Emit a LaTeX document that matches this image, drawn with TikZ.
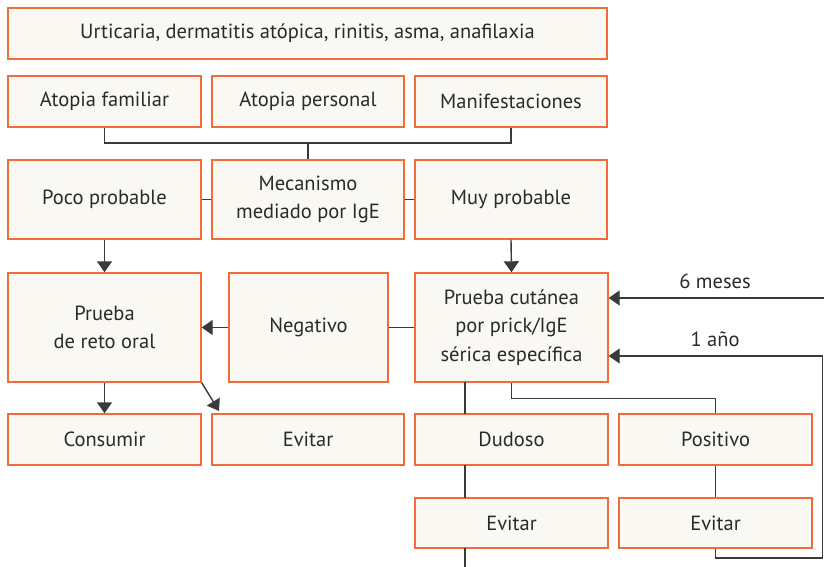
\documentclass[tikz,border=0pt]{standalone}
\usepackage{fontspec}
\setmainfont{PT Sans}
\usetikzlibrary{arrows.meta}
\definecolor{boxorange}{HTML}{F26B3A}
\definecolor{boxfill}{HTML}{FAF8F3}
\definecolor{linegray}{HTML}{3A3A3A}
\definecolor{txt}{HTML}{2A2A2A}
\tikzset{
  box/.style={draw=boxorange, fill=boxfill, line width=1.4pt, inner sep=0pt,
    align=center, text=txt, font=\fontsize{20.5}{28.5}\selectfont},
  conn/.style={draw=linegray, line width=1.4pt},
  arr/.style={conn, -{Triangle[length=11pt,width=15pt]}},
  lbl/.style={text=txt, font=\fontsize{20.5}{24}\selectfont, inner sep=0pt}
}
\begin{document}
\begin{tikzpicture}[x=1pt,y=-1pt]
\useasboundingbox (0,0) rectangle (824,567);
% nodes
\node[box, minimum width=599pt, minimum height=51pt] (top) at (307.5,33.5) {Urticaria, dermatitis atópica, rinitis, asma, anafilaxia};
\node[box, minimum width=193pt, minimum height=51pt] (af) at (104.5,101.5) {Atopia familiar};
\node[box, minimum width=192pt, minimum height=51pt] (ap) at (308,101.5) {Atopia personal};
\node[box, minimum width=192pt, minimum height=51pt] (man) at (511,101.5) {Manifestaciones};
\node[box, minimum width=193pt, minimum height=79pt] (poco) at (104.5,199.5) {Poco probable};
\node[box, minimum width=192pt, minimum height=79pt] (mec) at (308,199.5) {Mecanismo\\mediado por IgE};
\node[box, minimum width=192pt, minimum height=79pt] (muy) at (511,199.5) {Muy probable};
\node[box, minimum width=193pt, minimum height=109pt] (reto) at (104.5,327.5) {Prueba\\de reto oral};
\node[box, minimum width=159pt, minimum height=109pt] (neg) at (308.5,327.5) {Negativo};
\node[box, minimum width=193pt, minimum height=109pt] (cut) at (511.5,327.5) {Prueba cutánea\\por prick/IgE\\sérica específica};
\node[box, minimum width=193pt, minimum height=51pt] (cons) at (104.5,439.5) {Consumir};
\node[box, minimum width=192pt, minimum height=51pt] (ev1) at (308,439.5) {Evitar};
\node[box, minimum width=193pt, minimum height=51pt] (dud) at (511.5,439.5) {Dudoso};
\node[box, minimum width=193pt, minimum height=51pt] (pos) at (715.5,439.5) {Positivo};
\node[box, minimum width=193pt, minimum height=50pt] (ev2) at (511.5,523) {Evitar};
\node[box, minimum width=193pt, minimum height=50pt] (ev3) at (715.5,523) {Evitar};
% coordinates
\coordinate (bm) at (308,143);
\coordinate (r6) at (824,298);
\coordinate (r1) at (822.5,356);
\coordinate (loopbr) at (822.5,558);
\coordinate (loopbl) at (715.5,558);
\coordinate (cutd) at (465,382);
\coordinate (dudt) at (465,414);
\coordinate (dudb) at (465,465);
\coordinate (ev2t) at (465,498);
\coordinate (ev2b) at (465,548);
\coordinate (ev2out) at (465,567);
\coordinate (diagend) at (219,411);
% connectors
\draw[conn] (af.south) |- (bm) -| (man.south);
\draw[conn] (bm) -- (mec.north);
\draw[conn] (poco.east) -- (mec.west);
\draw[conn] (mec.east) -- (muy.west);
\draw[arr] (poco.south) -- (reto.north);
\draw[arr] (muy.south) -- (cut.north);
\draw[arr] (neg.west) -- (reto.east);
\draw[conn] (neg.east) -- (cut.west);
\draw[arr] (r6) -- (cut.east |- r6);
\draw[arr] (ev3.south) -- (loopbl) -- (loopbr) -- (r1) -- (cut.east |- r1);
\draw[conn] (cutd) -- (dudt);
\draw[conn] (dudb) -- (ev2t);
\draw[conn] (ev2b) -- (ev2out);
\draw[conn] (cut.south) -- ++(0,16) -| (pos.north);
\draw[conn] (pos.south) -- (ev3.north);
\draw[arr] (reto.south) -- (cons.north);
\draw[arr] (reto.south east) -- (diagend);
% labels
\node[lbl] (l6) at (715,281) {6 meses};
\node[lbl] (l1) at (715,339) {1 año};
\end{tikzpicture}
\end{document}
